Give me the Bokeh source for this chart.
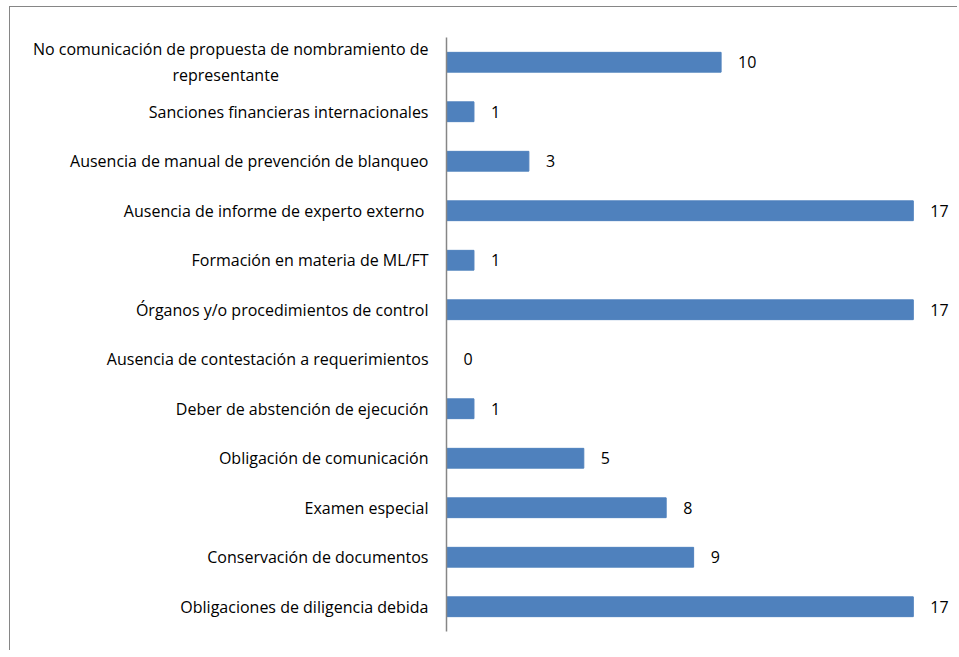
from bokeh.plotting import figure
from bokeh.models import ColumnDataSource, Range1d, FactorRange, InlineStyleSheet
from bokeh.core.properties import value
from bokeh.embed import file_html
from bokeh.resources import INLINE

categories = [
    "No comunicación de propuesta de nombramiento de\nrepresentante" + "\u00a0" * 36,
    "Sanciones financieras internacionales",
    "Ausencia de manual de prevención de blanqueo",
    "Ausencia de informe de experto externo ",
    "Formación en materia de ML/FT",
    "Órganos y/o procedimientos de control",
    "Ausencia de contestación a requerimientos",
    "Deber de abstención de ejecución",
    "Obligación de comunicación",
    "Examen especial",
    "Conservación de documentos",
    "Obligaciones de diligencia debida",
]
counts = [10, 1, 3, 17, 1, 17, 0, 1, 5, 8, 9, 17]
count_labels = [str(c) for c in counts]

FONT = "Open Sans"

src = ColumnDataSource(dict(cat=categories, val=counts, lab=count_labels))

border_css = InlineStyleSheet(css=":host { border-top: 1px solid #868686; border-left: 1px solid #868686; margin-left: 9px; margin-top: 6px; }")

p = figure(
    width=948, height=644,
    y_range=FactorRange(factors=list(reversed(categories))),
    x_range=Range1d(0, 18.5),
    output_backend="svg", toolbar_location=None,
    min_border_left=436, min_border_right=4, min_border_top=30, min_border_bottom=20,
    stylesheets=[border_css],
)
p.outline_line_color = None
p.xgrid.visible = False
p.ygrid.visible = False
p.xaxis.visible = False

p.hbar(y="cat", right="val", left=0, height=0.4, source=src,
       fill_color="#4F81BD", line_color="#4F81BD")
p.text(x="val", y="cat", text="lab", source=src, x_offset=17,
       text_font=value(FONT), text_font_size="16px", text_color="#000000",
       text_baseline="middle", text_align="left")

ya = p.yaxis[0]
ya.axis_line_color = "#868686"
ya.axis_line_width = 1.5
ya.major_tick_line_color = None
ya.minor_tick_line_color = None
ya.major_label_standoff = 12
ya.major_label_text_font = FONT
ya.major_label_text_font_size = "16px"
ya.major_label_text_color = "#000000"

open("out.html", "w").write(file_html(p, INLINE))
